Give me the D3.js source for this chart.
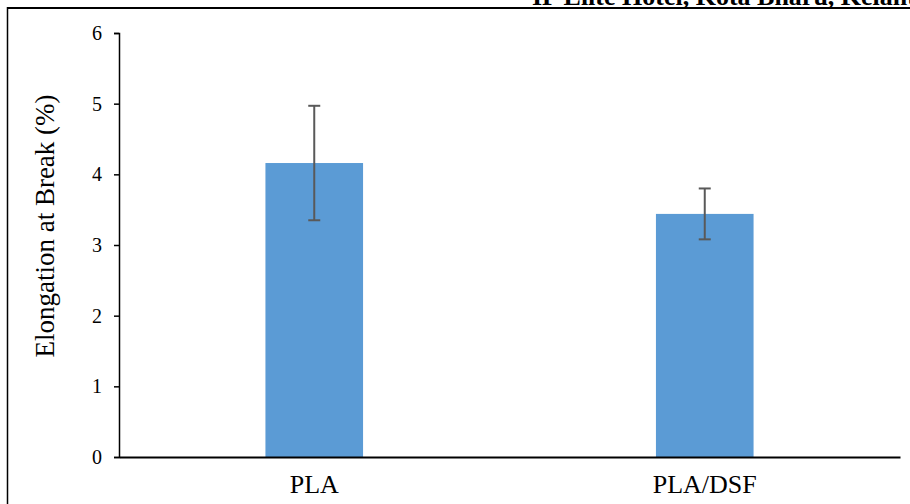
<!DOCTYPE html>
<html>
<head>
<meta charset="utf-8">
<script src="https://cdn.jsdelivr.net/npm/d3@7"></script>
<style>
  html, body { margin: 0; padding: 0; background: #fff; overflow: hidden; }
  svg { display: block; }
</style>
</head>
<body>
<svg id="chart" width="910" height="504"></svg>
<script>
// Sample groups and measured elongation at break (mean ± standard deviation)
const categories = ["PLA", "PLA/DSF"];
const elongation = [4.16, 3.44];
const errors = [0.81, 0.36];
const yTicks = [0, 1, 2, 3, 4, 5, 6];
const headerText = "IF Elite Hotel, Kota Bharu, Kelantan";

const svg = d3.select("#chart");
const W = 910, H = 504;
const margin = { left: 119, right: 10, top: 33, bottom: 47 };
const serif = "'Liberation Serif', 'Times New Roman', serif";

// page frame and running header
svg.append("text")
  .attr("x", 532).attr("y", 5)
  .attr("font-family", serif).attr("font-weight", "bold").attr("font-size", 26)
  .attr("fill", "#000")
  .text(headerText);
svg.append("line")
  .attr("x1", 7).attr("x2", W).attr("y1", 8).attr("y2", 8)
  .attr("stroke", "#000").attr("stroke-width", 2);
svg.append("line")
  .attr("x1", 7.5).attr("x2", 7.5).attr("y1", 7).attr("y2", H)
  .attr("stroke", "#000").attr("stroke-width", 1.5);

const x = d3.scaleBand()
  .domain(categories)
  .range([margin.left, W - margin.right])
  .paddingInner(0.75)
  .paddingOuter(0.375);

const y = d3.scaleLinear()
  .domain([0, 6])
  .range([H - margin.bottom, margin.top]);

// bars
svg.append("g").selectAll("rect")
  .data(categories)
  .join("rect")
  .attr("x", d => x(d))
  .attr("width", x.bandwidth())
  .attr("y", (d, i) => y(elongation[i]))
  .attr("height", (d, i) => y(0) - y(elongation[i]))
  .attr("fill", "#5B9BD5");

// error bars
const eb = svg.append("g").attr("stroke", "#595959").attr("stroke-width", 2);
categories.forEach((c, i) => {
  const cx = x(c) + x.bandwidth() / 2;
  const hi = y(elongation[i] + errors[i]);
  const lo = y(elongation[i] - errors[i]);
  eb.append("line").attr("x1", cx).attr("x2", cx).attr("y1", hi).attr("y2", lo);
  eb.append("line").attr("x1", cx - 6).attr("x2", cx + 6).attr("y1", hi).attr("y2", hi);
  eb.append("line").attr("x1", cx - 6).attr("x2", cx + 6).attr("y1", lo).attr("y2", lo);
});

// y axis
const yAxis = svg.append("g")
  .attr("transform", `translate(${margin.left},0)`)
  .call(d3.axisLeft(y).tickValues(yTicks).tickFormat(d3.format("d")).tickSizeOuter(0).tickSize(5).tickPadding(12));
yAxis.select(".domain").attr("stroke", "#000").attr("stroke-width", 1.5);
yAxis.selectAll(".tick line").attr("stroke", "#000").attr("stroke-width", 1.5);
yAxis.selectAll(".tick text")
  .attr("font-family", serif).attr("font-size", 20).attr("fill", "#000");

// x axis
const xAxis = svg.append("g")
  .attr("transform", `translate(0,${y(0)})`)
  .call(d3.axisBottom(x).tickSize(0).tickSizeOuter(0).tickPadding(18));
xAxis.select(".domain").attr("stroke", "#000").attr("stroke-width", 2);
xAxis.selectAll(".tick text")
  .attr("font-family", serif).attr("font-size", 26).attr("fill", "#000");

// y axis title
svg.append("text")
  .attr("transform", "translate(54,226) rotate(-90)")
  .attr("text-anchor", "middle")
  .attr("font-family", serif).attr("font-size", 27).attr("fill", "#000")
  .text("Elongation at Break (%)");
</script>
</body>
</html>
